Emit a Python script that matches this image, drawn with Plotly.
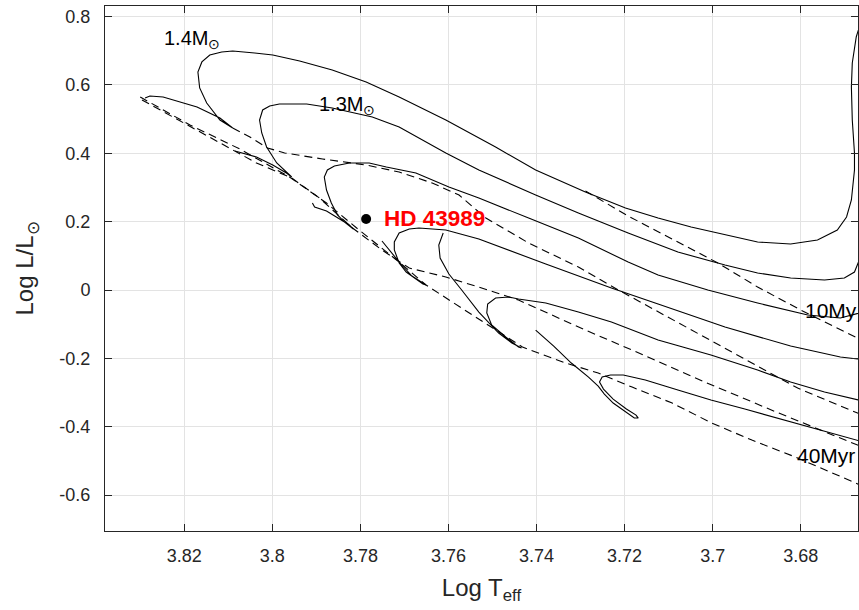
import plotly.graph_objects as go

# Pre-main-sequence evolutionary tracks (log Teff, log L/Lsun)
trk14_T = [3.8289, 3.8278, 3.8248, 3.8171, 3.8119, 3.8090, 3.8119, 3.8149, 3.8165, 3.8169, 3.8160, 3.8142, 3.8115, 3.8090, 3.8040, 3.7999, 3.7938, 3.7864, 3.7787, 3.7712, 3.7606, 3.7493, 3.7402, 3.7289, 3.7198, 3.7124, 3.7049, 3.6972, 3.6898, 3.6823, 3.6762, 3.6717, 3.6696, 3.6685, 3.6678, 3.6678, 3.6683, 3.6685, 3.6683, 3.6674, 3.6655]
trk14_L = [0.5619, 0.5678, 0.5648, 0.5356, 0.5034, 0.4741, 0.4975, 0.5473, 0.5912, 0.6380, 0.6673, 0.6877, 0.6965, 0.6995, 0.6936, 0.6877, 0.6702, 0.6438, 0.6087, 0.5648, 0.4975, 0.4185, 0.3512, 0.2868, 0.2400, 0.2107, 0.1844, 0.1610, 0.1405, 0.1346, 0.1463, 0.1756, 0.2137, 0.2634, 0.3512, 0.4010, 0.4975, 0.5941, 0.6643, 0.7404, 0.8200]

trk13_T = [3.8085, 3.8036, 3.7999, 3.7968, 3.7956, 3.7968, 3.7990, 3.8013, 3.8024, 3.8029, 3.8022, 3.8006, 3.7984, 3.7922, 3.7864, 3.7773, 3.7712, 3.7606, 3.7531, 3.7402, 3.7305, 3.7192, 3.7079, 3.6972, 3.6898, 3.6823, 3.6746, 3.6701, 3.6678, 3.6667, 3.6655]
trk13_L = [0.4068, 0.3892, 0.3658, 0.3424, 0.3307, 0.3453, 0.3717, 0.4185, 0.4595, 0.4975, 0.5268, 0.5385, 0.5443, 0.5443, 0.5326, 0.5063, 0.4770, 0.4010, 0.3512, 0.2780, 0.2254, 0.1668, 0.1112, 0.0732, 0.0498, 0.0351, 0.0293, 0.0351, 0.0527, 0.0878, 0.1500]

trk12_T = [3.7909, 3.7904, 3.7877, 3.7848, 3.7825, 3.7816, 3.7825, 3.7836, 3.7852, 3.7866, 3.7877, 3.7882, 3.7875, 3.7859, 3.7825, 3.7780, 3.7741, 3.7674, 3.7599, 3.7531, 3.7418, 3.7305, 3.7192, 3.7124, 3.7011, 3.6898, 3.6784, 3.6710, 3.6658]
trk12_L = [0.2546, 0.2429, 0.2312, 0.2078, 0.1902, 0.1785, 0.1873, 0.1990, 0.2195, 0.2546, 0.2927, 0.3307, 0.3512, 0.3629, 0.3717, 0.3717, 0.3600, 0.3424, 0.3014, 0.2692, 0.2107, 0.1522, 0.0820, 0.0439, 0.0000, -0.0380, -0.0732, -0.0819, -0.0644]

trk11_T = [3.7751, 3.7735, 3.7712, 3.7683, 3.7651, 3.7658, 3.7674, 3.7696, 3.7712, 3.7723, 3.7723, 3.7712, 3.7689, 3.7667, 3.7606, 3.7531, 3.7379, 3.7230, 3.7124, 3.6972, 3.6823, 3.6710, 3.6671, 3.6649]
trk11_L = [0.1434, 0.1171, 0.0820, 0.0410, 0.0146, 0.0176, 0.0322, 0.0527, 0.0790, 0.1171, 0.1405, 0.1668, 0.1785, 0.1815, 0.1756, 0.1493, 0.0761, 0.0059, -0.0410, -0.1083, -0.1639, -0.1961, -0.2019, -0.1931]

trk10_T = [3.7612, 3.7622, 3.7619, 3.7599, 3.7570, 3.7531, 3.7486, 3.7456, 3.7434, 3.7441, 3.7470, 3.7502, 3.7513, 3.7511, 3.7493, 3.7463, 3.7441, 3.7379, 3.7305, 3.7230, 3.7124, 3.7004, 3.6898, 3.6823, 3.6746, 3.6671, 3.6649]
trk10_L = [0.1668, 0.1317, 0.0937, 0.0468, 0.0000, -0.0644, -0.1258, -0.1551, -0.1697, -0.1668, -0.1375, -0.1024, -0.0673, -0.0410, -0.0234, -0.0205, -0.0263, -0.0380, -0.0644, -0.0936, -0.1463, -0.1902, -0.2341, -0.2692, -0.2985, -0.3219, -0.3278]

trk09_T = [3.7402, 3.7361, 3.7321, 3.7282, 3.7260, 3.7246, 3.7226, 3.7198, 3.7178, 3.7169, 3.7174, 3.7196, 3.7226, 3.7248, 3.7257, 3.7251, 3.7232, 3.7203, 3.7153, 3.7079, 3.7004, 3.6927, 3.6852, 3.6762, 3.6671, 3.6649]
trk09_L = [-0.1171, -0.1639, -0.2136, -0.2546, -0.2809, -0.3043, -0.3307, -0.3570, -0.3746, -0.3746, -0.3658, -0.3482, -0.3190, -0.2897, -0.2692, -0.2546, -0.2487, -0.2487, -0.2634, -0.2926, -0.3219, -0.3482, -0.3746, -0.4068, -0.4390, -0.4478]

# Isochrones
iso10_T = [3.7289, 3.7192, 3.7079, 3.6988, 3.6898, 3.6800, 3.6671, 3.6649]
iso10_L = [0.2897, 0.2166, 0.1405, 0.0790, 0.0088, -0.0585, -0.1405, -0.1550]

iso20_T = [3.8090, 3.8051, 3.8011, 3.7972, 3.7886, 3.7787, 3.7712, 3.7637, 3.7576, 3.7515, 3.7418, 3.7305, 3.7214, 3.7056, 3.6920, 3.6807, 3.6671, 3.6649]
iso20_L = [0.4741, 0.4478, 0.4156, 0.4010, 0.3834, 0.3658, 0.3453, 0.3132, 0.2780, 0.2107, 0.1376, 0.0673, 0.0000, -0.1112, -0.2048, -0.2868, -0.3599, -0.3716]

iso30_T = [3.8296, 3.8158, 3.8036, 3.7956, 3.7893, 3.7818, 3.7751, 3.7689, 3.7606, 3.7531, 3.7441, 3.7289, 3.7183, 3.7002, 3.6850, 3.6671, 3.6649]
iso30_L = [0.5561, 0.4595, 0.3717, 0.3278, 0.2692, 0.1815, 0.1171, 0.0644, 0.0381, 0.0088, -0.0293, -0.1171, -0.1756, -0.2780, -0.3599, -0.4536, -0.4653]

iso40_T = [3.8300, 3.8187, 3.8074, 3.7961, 3.7877, 3.7803, 3.7712, 3.7651, 3.7542, 3.7432, 3.7334, 3.7260, 3.7183, 3.7092, 3.7002, 3.6911, 3.6812, 3.6671, 3.6649]
iso40_L = [0.5648, 0.4829, 0.4126, 0.3307, 0.2546, 0.1756, 0.0820, 0.0146, -0.0761, -0.1668, -0.2136, -0.2429, -0.2839, -0.3307, -0.3892, -0.4390, -0.4887, -0.5677, -0.5794]

# Target star
star_name = "HD 43989"
star_T = 3.7787
star_L = 0.2078

x_ticks = [3.82, 3.80, 3.78, 3.76, 3.74, 3.72, 3.70, 3.68]
x_ticktext = ["3.82", "3.8", "3.78", "3.76", "3.74", "3.72", "3.7", "3.68"]
y_ticks = [-0.6, -0.4, -0.2, 0.0, 0.2, 0.4, 0.6, 0.8]
y_ticktext = ["-0.6", "-0.4", "-0.2", "0", "0.2", "0.4", "0.6", "0.8"]

FONT = "Liberation Sans, Arial, sans-serif"
INK = "#262626"

fig = go.Figure()

for tx, ly in [(trk14_T, trk14_L), (trk13_T, trk13_L), (trk12_T, trk12_L),
               (trk11_T, trk11_L), (trk10_T, trk10_L), (trk09_T, trk09_L)]:
    fig.add_trace(go.Scatter(x=tx, y=ly, mode="lines",
                             line=dict(color="black", width=1.1),
                             showlegend=False, hoverinfo="skip"))

for tx, ly in [(iso10_T, iso10_L), (iso20_T, iso20_L),
               (iso30_T, iso30_L), (iso40_T, iso40_L)]:
    fig.add_trace(go.Scatter(x=tx, y=ly, mode="lines",
                             line=dict(color="black", width=1.1, dash="8px,5px"),
                             showlegend=False, hoverinfo="skip"))

fig.add_trace(go.Scatter(x=[star_T], y=[star_L], mode="markers",
                         marker=dict(color="black", size=10),
                         showlegend=False))

annos = [
    dict(x=3.7751, y=0.2107, text="<b>" + star_name + "</b>",
         font=dict(color="red", size=22.5, family=FONT)),
    dict(x=3.8250, y=0.7330, text="1.4M<sub>\u2299</sub>",
         font=dict(color="black", size=20, family=FONT)),
    dict(x=3.7898, y=0.5400, text="1.3M<sub>\u2299</sub>",
         font=dict(color="black", size=20, family=FONT)),
    dict(x=3.6796, y=-0.0585, text="10My",
         font=dict(color="black", size=21, family=FONT)),
    dict(x=3.6814, y=-0.4829, text="40Myr",
         font=dict(color="black", size=21, family=FONT)),
]
for a in annos:
    fig.add_annotation(xref="x", yref="y", showarrow=False,
                       xanchor="left", yanchor="middle", **a)

axis_common = dict(
    showgrid=True, gridcolor="#e3e3e3", gridwidth=1,
    showline=True, linecolor=INK, linewidth=1, mirror="ticks",
    ticks="inside", ticklen=7, tickcolor=INK, tickwidth=1,
    zeroline=False,
    tickfont=dict(family=FONT, size=18, color=INK),
)

fig.update_xaxes(range=[3.838, 3.667], tickvals=x_ticks, ticktext=x_ticktext,
                 ticklabelstandoff=8,
                 title=dict(text="Log T<sub>eff</sub>",
                            font=dict(family=FONT, size=24, color=INK),
                            standoff=14),
                 **axis_common)
fig.update_yaxes(range=[-0.705, 0.831], tickvals=y_ticks, ticktext=y_ticktext,
                 ticklabelstandoff=10,
                 title=dict(text="Log L/L<sub>\u2299</sub>",
                            font=dict(family=FONT, size=24, color=INK),
                            standoff=18),
                 **axis_common)

fig.update_layout(
    width=859, height=610,
    margin=dict(l=105, r=1, t=6, b=79),
    paper_bgcolor="white", plot_bgcolor="white",
)

fig.write_html("out.html")
